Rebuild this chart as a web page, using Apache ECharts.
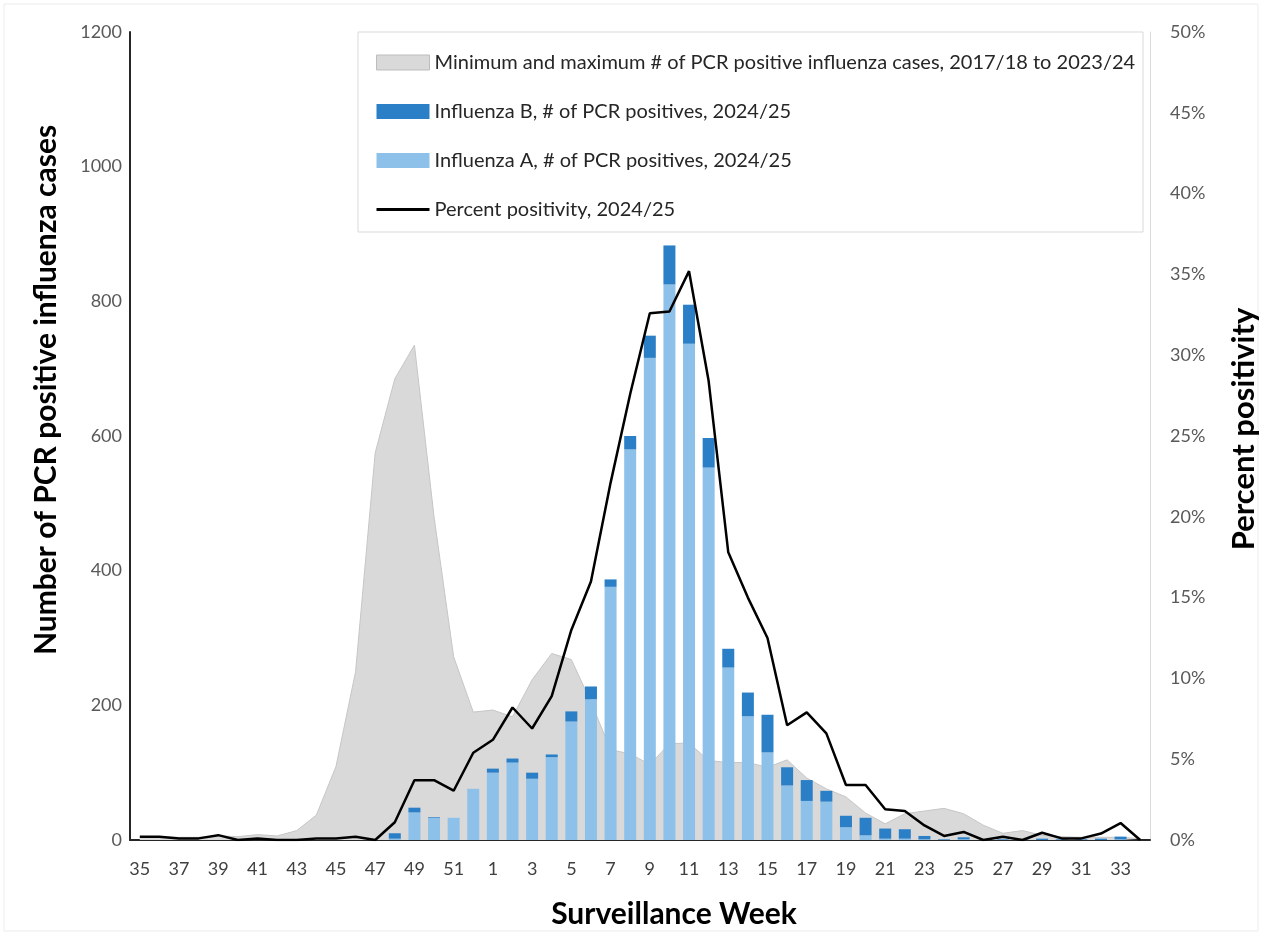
<!DOCTYPE html>
<html>
<head>
<meta charset="utf-8">
<script src="https://cdn.jsdelivr.net/npm/echarts@6/dist/echarts.min.js"></script>
<style>
html,body{margin:0;padding:0;background:#fff;}
#chart{width:1262px;height:935px;}
</style>
</head>
<body>
<div id="chart"></div>
<script>
const weeks = ['35','36','37','38','39','40','41','42','43','44','45','46','47','48','49','50','51','52',
  '1','2','3','4','5','6','7','8','9','10','11','12','13','14','15','16','17','18','19','20',
  '21','22','23','24','25','26','27','28','29','30','31','32','33','34'];

const fluA = [0,0,0,0,0,0,0,0,0,0,0,0,0,2,41,33,33,76,
  100,115,91,123,176,209,376,580,716,825,737,553,256,184,130,81,58,57,19,7,
  2,2,1,0,1,0,0,0,0,0,0,0,1,0];

const fluB = [0,0,0,0,0,0,0,0,0,0,0,0,0,8,7,1,0,0,
  6,6,9,4,15,19,11,20,33,58,58,44,28,35,56,27,31,16,17,26,
  15,14,5,1,3,0,1,1,2,1,1,2,4,0];

const histMin = [0,0,0,0,0,0,0,0,0,0,0,0,0,0,0,0,0,0,
  0,0,0,0,0,0,0,0,0,0,0,0,0,0,0,0,0,0,0,0,
  0,0,0,0,0,0,0,0,0,0,0,0,0,0];

const histMax = [5,5,4,4,6,5,8,6,14,37,109,250,575,685,735,480,272,190,
  193,183,238,277,268,205,134,128,112,143,144,118,115,115,108,119,92,76,64,40,
  24,39,43,47,39,22,10,14,7,5,4,4,4,2];

const positivity = [0.2,0.2,0.1,0.1,0.3,0.0,0.1,0.0,0.0,0.1,0.1,0.2,0.0,1.1,3.7,3.7,3.05,5.4,
  6.2,8.2,6.9,8.9,13.0,16.0,22.1,27.6,32.6,32.7,35.2,28.4,17.8,15.0,12.5,7.1,7.9,6.6,3.4,3.4,
  1.9,1.8,0.9,0.25,0.5,0.0,0.2,0.0,0.45,0.1,0.1,0.4,1.05,0.0];

const leftTicks = {min:0, max:1200, interval:200};
const rightTicks = {min:0, max:50, interval:5};

const names = {
  range: 'Minimum and maximum # of PCR positive influenza cases, 2017/18 to 2023/24',
  b: 'Influenza B, # of PCR positives, 2024/25',
  a: 'Influenza A, # of PCR positives, 2024/25',
  pos: 'Percent positivity, 2024/25'
};
const titles = {
  x: 'Surveillance Week',
  yLeft: 'Number of PCR positive influenza cases',
  yRight: 'Percent positivity'
};

const FONT = 'Lato, "Noto Sans", sans-serif';
const range = histMax.map((v, i) => v - histMin[i]);
const titleStyle = {fontFamily: FONT, fontWeight: 'bold', fontSize: 30, fill: '#000', align: 'center', verticalAlign: 'middle'};

const chart = echarts.init(document.getElementById('chart'), null, {renderer:'canvas'});
chart.setOption({
  animation: false,
  backgroundColor: '#ffffff',
  textStyle: {fontFamily: FONT},
  graphic: [
    {type:'rect', shape:{x:4, y:4, width:1254, height:927}, style:{fill:'none', stroke:'#ececec', lineWidth:1}, silent:true, z:-10},
    {type:'rect', shape:{x:358, y:32, width:785, height:200}, style:{fill:'#ffffff', stroke:'#d9d9d9', lineWidth:1}, silent:true, z:5},
    {type:'text', x:674, y:914, style:Object.assign({text: titles.x}, titleStyle), silent:true},
    {type:'text', x:46, y:390, rotation: Math.PI/2, style:Object.assign({text: titles.yLeft}, titleStyle), silent:true},
    {type:'text', x:1244, y:429, rotation: Math.PI/2, style:Object.assign({text: titles.yRight}, titleStyle, {fontSize:31}), silent:true}
  ],
  grid: {left:130, right:112, top:32, bottom:95, containLabel:false},
  legend: {
    orient: 'vertical',
    left: 371, top: 47,
    itemWidth: 53, itemHeight: 15,
    itemGap: 28,
    z: 10,
    textStyle: {fontFamily: FONT, fontSize: 20, color:'#262626', lineHeight: 21},
    data: [
      {name: names.range, icon:'rect', itemStyle:{color:'#d9d9d9', borderColor:'#bdbdbd', borderWidth:1}},
      {name: names.b, icon:'rect'},
      {name: names.a, icon:'rect'},
      {name: names.pos, icon:'path://M0,0 L53,0 L53,3 L0,3 Z', itemStyle:{color:'#000'}}
    ]
  },
  xAxis: {
    type: 'category',
    data: weeks,
    boundaryGap: true,
    axisLine: {show:true, lineStyle:{color:'#262626', width:2}},
    axisTick: {show:false},
    axisLabel: {interval:1, fontSize:18, color:'#404040', margin:20, fontFamily: FONT},
    splitLine: {show:false}
  },
  yAxis: [
    {
      type: 'value',
      min: leftTicks.min, max: leftTicks.max, interval: leftTicks.interval,
      axisLine: {show:true, lineStyle:{color:'#262626', width:2}},
      axisTick: {show:false},
      splitLine: {show:false},
      axisLabel: {fontSize:18, color:'#595959', margin:8, fontFamily: FONT, formatter: v => String(v)}
    },
    {
      type: 'value',
      position: 'right',
      min: rightTicks.min, max: rightTicks.max, interval: rightTicks.interval,
      axisLine: {show:true, lineStyle:{color:'#d9d9d9', width:1}},
      axisTick: {show:false},
      splitLine: {show:false},
      axisLabel: {fontSize:18, color:'#595959', margin:20, formatter:'{value}%', fontFamily: FONT}
    }
  ],
  series: [
    {
      name: 'histMin',
      type: 'line',
      data: histMin,
      stack: 'hist',
      symbol: 'none',
      lineStyle: {opacity:0},
      areaStyle: {opacity:0},
      silent: true,
      z: 1
    },
    {
      name: names.range,
      type: 'line',
      data: range,
      stack: 'hist',
      symbol: 'none',
      lineStyle: {color:'#c6c6c6', width:1},
      itemStyle: {color:'#d9d9d9'},
      areaStyle: {color:'#d9d9d9', opacity:1},
      z: 1
    },
    {
      name: names.a,
      type: 'bar',
      data: fluA,
      stack: 'flu',
      barWidth: 12,
      itemStyle: {color:'#8dc1e9'},
      z: 2
    },
    {
      name: names.b,
      type: 'bar',
      data: fluB,
      stack: 'flu',
      barWidth: 12,
      itemStyle: {color:'#2a7fc6'},
      z: 2
    },
    {
      name: names.pos,
      type: 'line',
      yAxisIndex: 1,
      data: positivity,
      symbol: 'none',
      lineStyle: {color:'#000000', width:2.5},
      itemStyle: {color:'#000000'},
      z: 3
    }
  ]
});
</script>
</body>
</html>
